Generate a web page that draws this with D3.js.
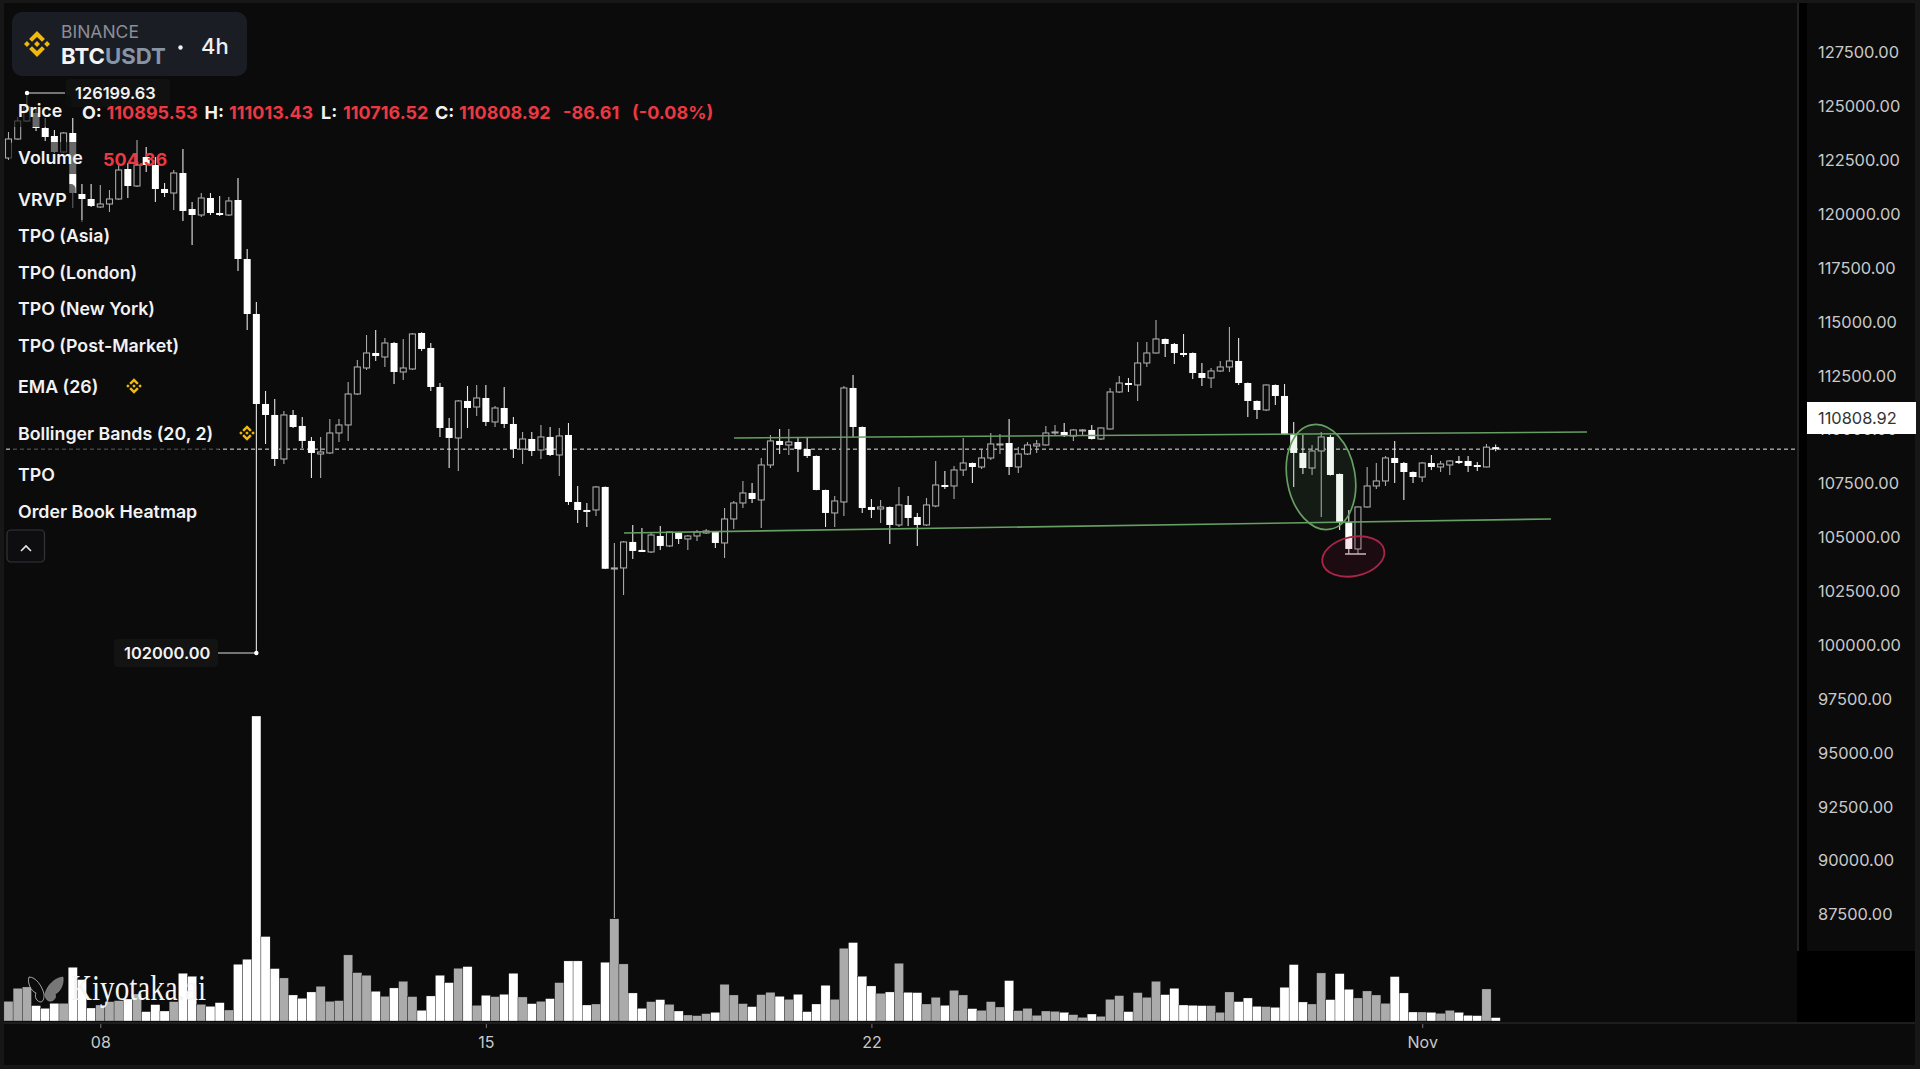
<!DOCTYPE html>
<html><head><meta charset="utf-8">
<script src="https://cdn.jsdelivr.net/npm/d3@7/dist/d3.min.js"></script>
<style>html,body{margin:0;padding:0;background:#151515;overflow:hidden}svg{display:block}text{font-family:Inter,"Noto Sans",sans-serif}</style>
</head><body><svg id="c" width="1920" height="1069"></svg>
<script>
const opens=[123391,124212,124990,125335,124687,124342,123651,124471,121835,121619,
121274,121403,121619,122915,122181,123434,123088,122051,121878,122743,
121187,120928,121662,121015,120928,121576,119026,116650,112761,112286,
110384,112286,111811,111163,110600,110644,111508,111854,113193,114317,
114965,114792,115397,114144,114273,115829,115181,113496,111724,111292,
112891,112631,113020,111984,112588,111897,110816,111249,110773,111336,
110557,111422,108526,108181,108181,109175,105630,105675,106798,106453,
106366,107057,106626,107187,106928,107057,107187,107230,106755,107792,
108483,108916,108613,110125,111163,110990,111119,110816,110514,109045,
108052,108526,113453,111767,108310,108224,108310,107533,108397,107878,
107533,108354,109261,109218,109909,110211,110039,110428,110990,111076,
110039,110600,110946,110990,111508,111551,111379,111595,111638,111249,
111681,113280,113668,113582,114532,114965,115570,115354,114965,114965,
114100,113885,114187,114360,114619,113668,112891,112502,113582,113107,
111465,110644,109995,110730,111336,109736,107662,106496,108310,109218,
109434,110428,110211,109822,109606,110211,110039,110125,110298,110298,
110125,110039,110895.53];
const highs=[124515,125163,126199.63,125551,125119,124601,124515,125119,122267,122267,
122224,122008,123174,123174,124169,123867,123434,122310,122872,123780,
121490,121878,121878,121749,121705,122526,119459,117169,113323,112977,
112459,112502,112200,111336,111336,112113,112113,113712,114662,115743,
115959,115613,115440,115570,115829,115860,115397,113668,112156,112934,
113539,113582,113582,112675,113496,112200,111551,111551,111854,111767,
111724,111940,109218,108483,109218,109200,106755,106842,107533,107403,
107230,107489,107250,107230,107100,107317,107360,107250,108267,108570,
109434,109348,110428,111422,111681,111681,111292,111292,110530,109060,
108786,113539,114014,111790,108656,108613,108330,109175,108786,108052,
108699,110298,109866,110082,111292,110230,110816,111508,111465,112113,
110903,111119,111206,111811,111854,111940,111681,111681,111854,111740,
113453,113971,113885,115440,115440,116391,115590,115397,115786,114985,
114532,114317,114619,116088,115613,113690,112910,113600,113600,113625,
111984,111422,110990,111551,111422,109760,108181,108330,110039,110211,
110514,111163,110254,109840,110254,110557,110298,110341,110514,110514,
110254,111033,111013.43];
const lows=[123304,124169,124947,124558,124126,123607,123607,121230,120626,121274,
121230,121058,121576,121662,122138,122786,121490,121705,121144,120669,
119632,120842,120928,120885,120885,118508,115959,102000,111033,110082,
110168,111724,110860,109563,109563,110600,111119,111163,113150,114230,
114619,114360,113625,113798,114230,115052,113323,111336,109995,109866,
111724,112243,111811,111767,111724,110428,110168,110514,110384,110514,
109650,108397,107619,107446,107922,105630,90551,104508,106064,106366,
106323,106453,106583,106712,106453,106842,107144,106539,106107,107360,
108267,108483,107403,109995,110600,110557,109822,110428,109030,107446,
107446,107922,111336,108052,107835,107619,106712,107446,107489,106626,
107489,108300,109088,108656,109650,109348,109952,110341,110600,109693,
109779,110557,110644,110970,111422,111336,111163,111379,111230,111206,
111660,113236,113280,112891,114360,114940,114792,114489,114792,113841,
113539,113453,114144,114144,113582,112200,112113,112459,112718,111422,
109175,109736,109693,107878,109670,107317,106280,106280,108290,109088,
109218,109348,108613,109348,109391,109909,109822,109693,110168,109822,
109866,110020,110716.52];
const closes=[124212,124990,125595,124687,124299,123651,124471,121878,121619,121317,
121403,121619,122872,122181,123088,123088,122051,121878,122743,121101,
120928,121662,121015,120928,121533,119026,116650,112761,112286,110384,
112286,111767,111163,110644,110687,111508,111854,113193,114360,114965,
114835,115397,114144,114317,115786,115138,113496,111724,111292,112891,
112588,113020,111984,112588,111897,110816,111249,110730,111336,110557,
111379,108526,108181,108138,109175,105640,105675,106798,106410,106366,
107100,106626,107230,106928,107057,107230,107273,106755,107792,108483,
108916,108656,110125,111163,110990,111119,110816,110514,109045,108052,
108570,113453,111767,108267,108181,108310,107533,108397,107835,107533,
108397,109261,109175,109909,110211,110039,110428,111033,111033,110039,
110600,110990,111033,111508,111551,111379,111638,111638,111249,111724,
113280,113668,113582,114532,114965,115570,115354,114965,114921,114100,
113885,114187,114360,114619,113668,112891,112502,113582,113107,111465,
110644,109995,110730,111336,109693,107662,106496,108310,109218,109434,
110428,110211,109822,109606,110211,110039,110168,110298,110254,110082,
110039,110895.53,110808.92];
const volumes=[2974,4939,5141,2318,1915,2671,2671,8114,6250,1966,
2419,2923,3074,3326,4082,1411,2470,1512,2923,7207,
6754,2520,2218,2772,1663,8568,9324,46055,12751,7913,
6502,3931,3427,4385,5242,2974,3074,9979,7308,6905,
4486,3730,4990,5998,3679,1613,3780,6905,5796,7963,
8215,2369,3881,3679,4032,7207,3629,2621,2974,3377,
5796,9072,9072,2419,2570,8870,15422,8618,4234,1915,
2923,3226,2520,1512,907,806,1109,1310,5544,3931,
2621,2167,3982,4334,3730,3276,4032,1411,2570,5393,
3276,10987,11844,6754,5292,4183,4385,8719,4334,4284,
2570,3578,2369,4637,3931,1865,1613,2923,2117,6098,
1562,1915,857,1512,1462,1310,958,554,1058,706,
3276,3830,1411,4284,3578,5998,3982,4939,2419,2369,
2318,2318,1310,4385,2923,3478,2218,2167,2066,5090,
8518,2873,2570,7258,3226,7157,4788,3478,4536,3931,
2671,6703,4234,1361,1361,1310,1159,1613,1310,857,
806,4838,504.36];
const priceTicks=[130000,127500,125000,122500,120000,117500,115000,112500,110000,107500,105000,102500,100000,97500,95000,92500,90000,87500];
const timeTickIndex=[10,52,94,154];
const timeTickLabels=["08","15","22","Nov"];
const highPrice=126199.63, lowPrice=102000, lastPrice=110808.92;
const ohlcRead=[["O:","110895.53",82,106.5],["H:","111013.43",204.5,229],["L:","110716.52",321,343],["C:","110808.92",435,459]];
const indicatorNames=[["Price",111],["Volume",158],["VRVP",200],["TPO (Asia)",236],["TPO (London)",273],["TPO (New York)",309],["TPO (Post-Market)",346],["EMA (26)",387],["Bollinger Bands (20, 2)",434],["TPO",475],["Order Book Heatmap",512]];

const svg=d3.select("#c");
const RED="#ea3943",GREY="#ababab",BG="#0b0b0b";
const idx=d3.range(opens.length);
const x=d3.scaleLinear([0,42],[8.5,394.06]);
const y=d3.scaleLinear([highPrice,lowPrice],[93,653]);
const yAxisScale=d3.scaleLinear([127500,87500],[52.5,914.5]);
const yVol=d3.scaleLinear([0,46055],[1021,716]);
const bw=7;

svg.append("rect").attr("width",1920).attr("height",1069).attr("fill","#171717");
svg.append("rect").attr("x",4).attr("y",3).attr("width",1911).attr("height",1062).attr("fill",BG);
svg.append("rect").attr("x",1797).attr("y",3).attr("width",10).attr("height",948).attr("fill","#000");
svg.append("rect").attr("x",1797).attr("y",951).attr("width",118).attr("height",72).attr("fill","#000");
svg.append("line").attr("x1",1798).attr("x2",1798).attr("y1",3).attr("y2",951).attr("stroke","#2e2e2e").attr("stroke-width",1.5);
svg.append("line").attr("x1",4).attr("x2",1915).attr("y1",1023).attr("y2",1023).attr("stroke","#262626").attr("stroke-width",1.5);

// volume bars
svg.append("g").selectAll("rect").data(idx).join("rect")
 .attr("x",i=>x(i)-x(0.5)+x(0)).attr("width",x(1)-x(0))
 .attr("y",i=>yVol(volumes[i])).attr("height",i=>yVol(0)-yVol(volumes[i]))
 .attr("fill",i=>closes[i]>=opens[i]?GREY:"#fff").attr("stroke",BG).attr("stroke-width",0.3);

// watermark
const wm=svg.append("g");
wm.append("path").attr("d","M45 994 C47 986 54 978 63 977 C64 985 60 992 55 994 C57 998 53 1002 49 1001 C46 1000 45 997 45 994Z").attr("fill","#777").attr("stroke","#999").attr("stroke-width",.6);
wm.append("path").attr("d","M44 994 C42 986 36 977 29 977 C27 983 31 991 36 993 C34 997 37 1002 41 1002 C44 1001 44 997 44 994Z").attr("fill",BG).attr("stroke","#ccc").attr("stroke-width",.8);
wm.append("text").text("Kiyotaka.ai").attr("x",71).attr("y",1000).attr("textLength",135).attr("lengthAdjust","spacingAndGlyphs").attr("fill","#f4f4f4").style("font-family","'Liberation Serif',serif").style("font-size","36px");

// last price line
svg.append("line").attr("x1",6).attr("x2",1795).attr("y1",y(lastPrice)).attr("y2",y(lastPrice)).attr("stroke","#e8e8e8").attr("stroke-width",1).attr("stroke-dasharray","4 3");

// candles
const cg=svg.append("g").selectAll("g").data(idx).join("g");
cg.append("line").attr("x1",i=>x(i)).attr("x2",i=>x(i)).attr("y1",i=>y(highs[i])).attr("y2",i=>y(lows[i]))
 .attr("stroke",i=>closes[i]>=opens[i]?"#a9a9a9":"#e6e6e6").attr("stroke-width",1.1);
cg.append("rect")
 .attr("x",i=>x(i)-bw/2+(closes[i]>=opens[i]?.5:0)).attr("width",i=>closes[i]>=opens[i]?bw-1:bw)
 .attr("y",i=>y(Math.max(opens[i],closes[i])))
 .attr("height",i=>Math.max(closes[i]>=opens[i]?1:2,Math.abs(y(opens[i])-y(closes[i]))))
 .attr("fill",i=>closes[i]>=opens[i]?BG:"#fff")
 .attr("stroke",i=>closes[i]>=opens[i]?"#a9a9a9":"none").attr("stroke-width",1.1);

// drawings
const GREEN="#659f62";
[[[734,438],[1587,432]],[[624,533],[1551,519]]].forEach(l=>{
 svg.append("line").attr("x1",l[0][0]).attr("y1",l[0][1]).attr("x2",l[1][0]).attr("y2",l[1][1]).attr("stroke",GREEN).attr("stroke-width",1.6);
});
svg.append("line").attr("x1",1345).attr("x2",1366).attr("y1",554).attr("y2",554).attr("stroke","#d8c4c8").attr("stroke-width",1.5);
svg.append("ellipse").attr("transform","translate(1321,477) rotate(-10)").attr("rx",34).attr("ry",53)
 .attr("fill","rgba(110,170,110,.10)").attr("stroke",GREEN).attr("stroke-width",1.7);
svg.append("ellipse").attr("transform","translate(1353.3,556.5) rotate(-12)").attr("rx",31.5).attr("ry",19.5)
 .attr("fill","rgba(170,30,70,.11)").attr("stroke","#a92549").attr("stroke-width",1.8);

// price axis
svg.append("clipPath").attr("id","pc").append("rect").attr("x",1807).attr("y",4).attr("width",108).attr("height",948);
const pa=svg.append("g").attr("clip-path","url(#pc)");
pa.append("g").attr("transform","translate(1818,0)")
 .call(d3.axisRight(yAxisScale).tickValues(priceTicks).tickSize(0).tickPadding(0).tickFormat(d=>d3.format(".2f")(d)))
 .call(g=>g.select(".domain").remove())
 .call(g=>g.selectAll("text").attr("fill","#c9c9c9").style("font-size","16.4px").style("font-family","Inter,sans-serif"));
svg.append("rect").attr("x",1807).attr("y",402).attr("width",109).attr("height",32).attr("fill","#fff");
svg.append("text").text(d3.format(".2f")(lastPrice)).attr("x",1818).attr("y",418).attr("dy","0.35em").attr("fill","#333").style("font-size","16.4px");

// time axis
svg.append("g").attr("transform","translate(0,1024)")
 .call(d3.axisBottom(x).tickValues(timeTickIndex).tickSize(4).tickPadding(9).tickFormat((d,i)=>timeTickLabels[i]))
 .call(g=>g.select(".domain").remove())
 .call(g=>g.selectAll("line").attr("stroke","#777"))
 .call(g=>g.selectAll("text").attr("fill","#c9c9c9").style("font-size","16px").style("font-family","Inter,sans-serif"));

// label helper
function label(t,px,cy,size,weight,fill,bg){
 const g=svg.append("g");
 const r=bg?g.append("rect"):null;
 const n=g.append("text").text(t).attr("x",px).attr("y",cy).attr("dy","0.35em").attr("fill",fill).style("font-size",size+"px").style("font-weight",weight);
 if(bg){const w=n.node().getComputedTextLength();r.attr("x",px-9).attr("y",cy-16).attr("width",w+18).attr("height",32).attr("rx",5).attr("fill",bg);}
 return n;
}

// high / low markers
svg.append("rect").attr("x",66).attr("y",79).attr("width",104).attr("height",28).attr("rx",4).attr("fill","#111");
svg.append("line").attr("x1",27).attr("x2",65).attr("y1",y(highPrice)).attr("y2",y(highPrice)).attr("stroke","#ddd");
svg.append("circle").attr("cx",27).attr("cy",y(highPrice)).attr("r",2.2).attr("fill","#fff");
label(d3.format(".2f")(highPrice),75,y(highPrice),16.4,600,"#f2f2f2");
svg.append("rect").attr("x",114).attr("y",y(lowPrice)-14).attr("width",104).attr("height",28).attr("rx",4).attr("fill","#131313");
svg.append("line").attr("x1",218).attr("x2",x(27)).attr("y1",y(lowPrice)).attr("y2",y(lowPrice)).attr("stroke","#ddd");
svg.append("circle").attr("cx",x(27)).attr("cy",y(lowPrice)).attr("r",2.2).attr("fill","#fff");
label(d3.format(".2f")(lowPrice),124,y(lowPrice),16.4,600,"#f2f2f2");

// indicator labels
indicatorNames.forEach(d=>label(d[0],18,d[1],17.8,600,"#f2f2f2","rgba(11,11,11,.62)"));
label("504.36",103,160,18,700,RED);

ohlcRead.forEach(d=>{label(d[0],d[2],113,18,700,"#f2f2f2");label(d[1],d[3],113,18,700,RED);});
label("-86.61",563,113,18,700,RED);
label("(-0.08%)",632,113,18,700,RED);

// logo helper
function logo(cx,cy,s){
 const g=svg.append("g").attr("transform",`translate(${cx},${cy}) scale(${s}) translate(-12,-12)`).attr("fill","#f0b90b");
 g.append("path").attr("d","M7.6 10.1 L12 5.7 L16.4 10.1 L19 7.5 L12 .5 L5 7.5Z");
 g.append("path").attr("d","M7.6 13.9 L12 18.3 L16.4 13.9 L19 16.5 L12 23.5 L5 16.5Z");
 g.append("path").attr("d","M.5 12 L3.1 9.4 L5.7 12 L3.1 14.6Z");
 g.append("path").attr("d","M18.3 12 L20.9 9.4 L23.5 12 L20.9 14.6Z");
 g.append("path").attr("d","M9.4 12 L12 9.4 L14.6 12 L12 14.6Z");
}
// header card
svg.append("rect").attr("x",12).attr("y",12).attr("width",235).attr("height",64).attr("rx",10).attr("fill","#1b1d24");
logo(37,44,1.13);
svg.append("text").text("BINANCE").attr("x",61).attr("y",32).attr("dy","0.35em").attr("fill","#8a8e96").style("font-size","17.5px");
const sym=svg.append("text").attr("x",61).attr("y",56).attr("dy","0.35em").style("font-size","22.2px").style("font-weight",700);
sym.append("tspan").text("BTC").attr("fill","#f4f4f4");
sym.append("tspan").text("USDT").attr("fill","#8794a5");
svg.append("circle").attr("cx",180.5).attr("cy",47.5).attr("r",2.2).attr("fill","#f2f2f2");
svg.append("text").text("4h").attr("x",201).attr("y",46).attr("dy","0.35em").attr("fill","#f0f0f0").style("font-size","22px").style("font-weight",500);
logo(134,386,.68);
logo(247,433,.68);
// collapse button
svg.append("rect").attr("x",7).attr("y",530).attr("width",37.5).attr("height",32).attr("rx",4).attr("fill","#0e0e10").attr("stroke","#33353b").attr("stroke-width",1.2);
svg.append("path").attr("d","M21 551 L26 546 L31 551").attr("fill","none").attr("stroke","#e8e8e8").attr("stroke-width",1.6);
</script></body></html>
